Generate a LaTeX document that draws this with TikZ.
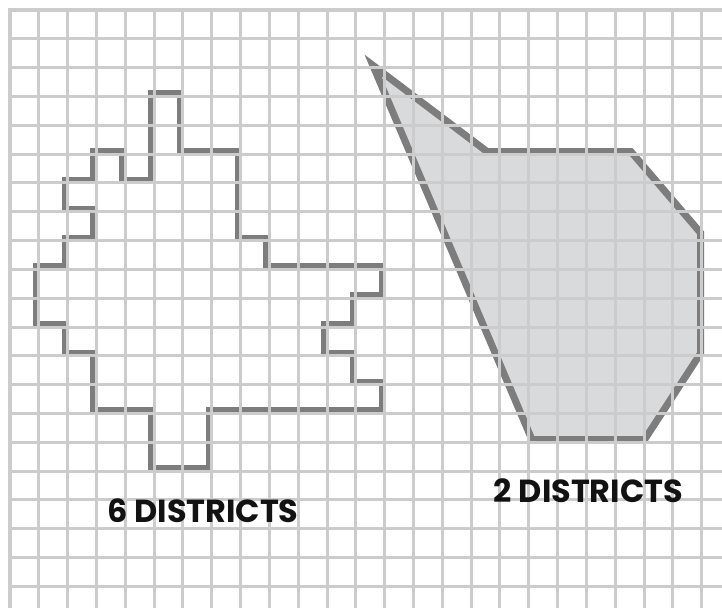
\documentclass[tikz,border=0pt]{standalone}
\usepackage{fontspec}
\newfontfamily\labelfont{Poppins}
\definecolor{gridc}{RGB}{204,204,204}
\definecolor{strokec}{RGB}{125,125,125}
\definecolor{fillc}{RGB}{217,218,220}
\begin{document}
\begin{tikzpicture}[
  gridline/.style={draw=gridc, line width=3pt},
  outline/.style={draw=strokec, line width=7pt, line join=miter},
  distlabel/.style={font=\labelfont\bfseries\fontsize{31.5}{32}\selectfont, text=black!93, inner sep=0pt}
]
\useasboundingbox (-0.347,0.347) rectangle (24.705,-20.715);
\begin{scope}[shift={(-0.087,0.087)}]
\draw[outline] (5,-3) -- (6,-3) -- (6,-5) -- (8,-5) -- (8,-8) -- (9,-8) -- (9,-9) -- (13,-9) -- (13,-10) -- (12,-10) -- (12,-11) -- (11,-11) -- (11,-12) -- (12,-12) -- (12,-13) -- (13,-13) -- (13,-14) -- (7,-14) -- (7,-16) -- (5,-16) -- (5,-14) -- (3,-14) -- (3,-12) -- (2,-12) -- (2,-11) -- (1,-11) -- (1,-9) -- (2,-9) -- (2,-8) -- (3,-8) -- (3,-7) -- (2,-7) -- (2,-6) -- (3,-6) -- (3,-5) -- (4,-5) -- (4,-6) -- (5,-6) -- cycle;
\filldraw[outline, fill=fillc] (12.68,-2.01) -- (16.64,-5) -- (21.63,-5) -- (24.05,-7.82) -- (24.05,-12) -- (22.1,-15) -- (18.2,-15) -- cycle;
\end{scope}
\foreach \i in {0,...,24} \draw[gridline] (\i,0.052) -- (\i,-20.8);
\foreach \j in {0,...,20} \draw[gridline] (-0.052,-\j) -- (24.8,-\j);
\node[distlabel] (six) at (6.697,-17.36) {6 DISTRICTS};
\node[distlabel] (two) at (20.07,-16.69) {2 DISTRICTS};
\end{tikzpicture}
\end{document}
